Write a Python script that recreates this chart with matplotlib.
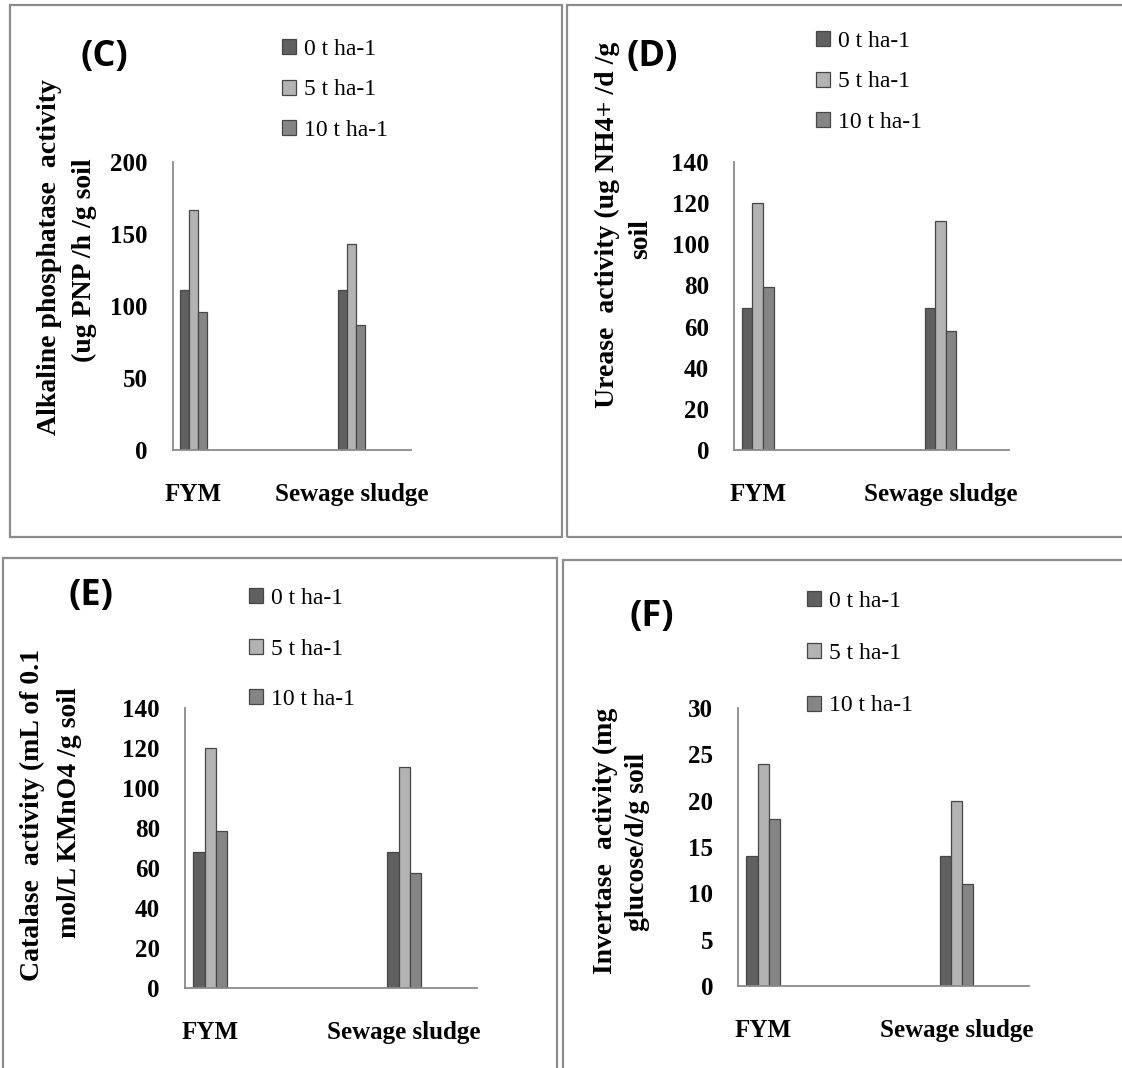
import matplotlib
matplotlib.use("Agg")
import matplotlib.pyplot as plt
from matplotlib.patches import Rectangle

W, H = 1122, 1068

categories = ["FYM", "Sewage sludge"]
series_labels = ["0 t ha-1", "5 t ha-1", "10 t ha-1"]
series_colors = ["#606060", "#b3b3b3", "#858585"]

# (C) Alkaline phosphatase
c_0t = [111, 111]
c_5t = [167, 143]
c_10t = [96, 87]
c_ticks = [0, 50, 100, 150, 200]

# (D) Urease
d_0t = [69, 69]
d_5t = [120, 111.5]
d_10t = [79, 58]
d_ticks = [0, 20, 40, 60, 80, 100, 120, 140]

# (E) Catalase
e_0t = [68, 68]
e_5t = [120, 110.5]
e_10t = [78.5, 57.5]
e_ticks = [0, 20, 40, 60, 80, 100, 120, 140]

# (F) Invertase
f_0t = [14, 14]
f_5t = [24, 20]
f_10t = [18, 11]
f_ticks = [0, 5, 10, 15, 20, 25, 30]

SERIF = "Liberation Serif"
SANS = "Open Sans"

fig = plt.figure(figsize=(W / 100, H / 100), dpi=100)


def px_rect(x0, y0, x1, y1):
    return [x0 / W, 1 - y1 / H, (x1 - x0) / W, (y1 - y0) / H]


def fx(x):
    return x / W


def fy(y):
    return 1 - y / H


def panel(rect_px, series, ticks, letter, letter_xy, ylab_lines, legend_xy, legend_spacing):
    ax = fig.add_axes(px_rect(*rect_px))
    xs = list(range(len(categories)))
    bw = 0.058
    handles = []
    for i, (vals, col, lab) in enumerate(zip(series, series_colors, series_labels)):
        b = ax.bar([x + (i - 1) * bw for x in xs], vals, width=bw, color=col,
                   edgecolor="#464646", linewidth=0.9, label=lab)
        handles.append(b)
    ax.set_xlim(-0.13, 1.375)
    ax.set_ylim(ticks[0], ticks[-1])
    ax.set_yticks(ticks)
    ax.set_xticks(xs)
    ax.set_xticklabels(categories)
    for s in ("top", "right"):
        ax.spines[s].set_visible(False)
    for s in ("left", "bottom"):
        ax.spines[s].set_color("#8a8a8a")
        ax.spines[s].set_linewidth(1.3)
    ax.tick_params(axis="y", length=0, pad=18)
    ax.tick_params(axis="x", length=0, pad=24)
    for t in ax.get_yticklabels() + ax.get_xticklabels():
        t.set_fontfamily(SERIF)
        t.set_fontweight("bold")
        t.set_fontsize(18)
    fig.text(fx(letter_xy[0]), fy(letter_xy[1]), letter, family=SANS,
             fontweight="bold", fontsize=26, ha="center", va="center")
    for txt, (x, y) in ylab_lines:
        fig.text(fx(x), fy(y), txt, family=SERIF, fontweight="bold", fontsize=20,
                 rotation=90, ha="center", va="center")
    leg = ax.legend(handles=handles, loc="upper left",
                    bbox_to_anchor=(fx(legend_xy[0]), fy(legend_xy[1])),
                    bbox_transform=fig.transFigure, frameon=False,
                    prop={"family": SERIF, "size": 17}, handlelength=0.6,
                    handleheight=0.6, handletextpad=0.35, labelspacing=legend_spacing,
                    borderpad=0, borderaxespad=0)
    return ax


panel((173, 162, 411, 450), [c_0t, c_5t, c_10t], c_ticks, "(C)", (104, 57),
      [("Alkaline phosphatase  activity", (50, 257)), ("(ug PNP /h /g soil", (84, 260))],
      (282, 39), 0.82)
panel((734, 162, 1009, 450), [d_0t, d_5t, d_10t], d_ticks, "(D)", (652, 57),
      [("Urease  activity (ug NH4+ /d /g", (607, 225)), ("soil", (641, 239))],
      (816, 31), 0.82)
panel((185, 708, 477, 988), [e_0t, e_5t, e_10t], e_ticks, "(E)", (91, 596),
      [("Catalase  activity (mL of 0.1", (32, 815)), ("mol/L KMnO4 /g soil", (70, 813))],
      (249, 588), 1.25)
panel((738, 708, 1029, 986), [f_0t, f_5t, f_10t], f_ticks, "(F)", (652, 617),
      [("Invertase  activity (mg", (605, 841)), ("glucose/d/g soil", (637, 842))],
      (807, 591), 1.32)

# panel frames
frames = [(10, 5, 562, 537), (567, 5, 1125, 537), (3, 558, 557, 1072), (563, 560, 1125, 1072)]
for x0, y0, x1, y1 in frames:
    fig.add_artist(Rectangle((fx(x0), fy(y1)), (x1 - x0) / W, (y1 - y0) / H,
                             transform=fig.transFigure, fill=False,
                             edgecolor="#8c8c8c", linewidth=1.6))

fig.savefig("out.png", dpi=100, facecolor="white")
